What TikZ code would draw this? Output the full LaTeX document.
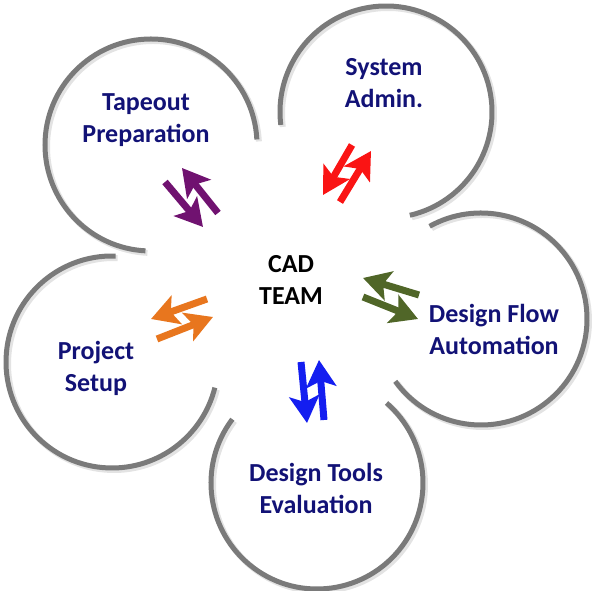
\documentclass[tikz,border=0pt]{standalone}
\usepackage{fontspec}
\setmainfont{Carlito}
\usetikzlibrary{arrows.meta}

\definecolor{navy}{RGB}{18,18,118}
\definecolor{ringgray}{RGB}{122,122,122}
\definecolor{tapecol}{RGB}{112,18,112}
\definecolor{syscol}{RGB}{250,20,20}
\definecolor{flowcol}{RGB}{80,102,40}
\definecolor{toolcol}{RGB}{20,30,240}
\definecolor{setupcol}{RGB}{232,118,30}

\tikzset{
  ring/.style={draw=ringgray,line width=5pt},
  ringshade/.style={draw=gray!22,line width=6pt},
  lbl/.style={text=navy,font=\fontsize{26}{32}\selectfont\bfseries,align=center},
  twin/.style={line width=7pt,-{Stealth[length=27pt,width=30pt,inset=6pt]}}
}

\begin{document}
\begin{tikzpicture}[x=1pt,y=1pt]
\useasboundingbox (0,0) rectangle (598,591);

% shadows of the rings
\draw[ringshade] (153,444) ++(3:106) arc[start angle=3,end angle=267,radius=106];
\draw[ringshade] (388,477) ++(283:106) arc[start angle=283,end angle=547,radius=106];
\draw[ringshade] (483,270) ++(216:106) arc[start angle=216,end angle=479,radius=106];
\draw[ringshade] (319,106) ++(143:106) arc[start angle=143,end angle=409,radius=106];
\draw[ringshade] (114,227) ++(88:106) arc[start angle=88,end angle=346,radius=106];

% rings
\draw[ring] (151,446) ++(3:106) arc[start angle=3,end angle=267,radius=106];
\draw[ring] (386,479) ++(283:106) arc[start angle=283,end angle=547,radius=106];
\draw[ring] (481,272) ++(216:106) arc[start angle=216,end angle=479,radius=106];
\draw[ring] (317,108) ++(143:106) arc[start angle=143,end angle=409,radius=106];
\draw[ring] (112,229) ++(88:106) arc[start angle=88,end angle=346,radius=106];

% labels
\node[lbl] (tapeout) at (146,471) {Tapeout\\Preparation};
\node[lbl] (sysadmin) at (384,508) {System\\Admin.};
\node[lbl] (flow) at (494,262) {Design Flow\\Automation};
\node[lbl] (tools) at (316,103) {Design Tools\\Evaluation};
\node[lbl] (setup) at (96,223) {Project\\Setup};
\node[lbl,text=black] (cad) at (291,311) {CAD\\TEAM};

% arrow ends
\coordinate (tp1) at (165,409);
\coordinate (tp2) at (203,364);
\coordinate (tp3) at (218,378);
\coordinate (tp4) at (182,423);
\coordinate (sa1) at (352,446);
\coordinate (sa2) at (323,396);
\coordinate (sa3) at (340,389);
\coordinate (sa4) at (371,440);
\coordinate (fl1) at (419,296);
\coordinate (fl2) at (363,313);
\coordinate (fl3) at (363,294);
\coordinate (fl4) at (418,272);
\coordinate (dt1) at (301,229);
\coordinate (dt2) at (307,168);
\coordinate (dt3) at (324,171);
\coordinate (dt4) at (319,231);
\coordinate (ps1) at (207,292);
\coordinate (ps2) at (151,272);
\coordinate (ps3) at (157,252);
\coordinate (ps4) at (213,274);

% double arrows
\draw[twin,tapecol] (tp1) -- (tp2);
\draw[twin,tapecol] (tp3) -- (tp4);
\draw[twin,syscol] (sa1) -- (sa2);
\draw[twin,syscol] (sa3) -- (sa4);
\draw[twin,flowcol] (fl1) -- (fl2);
\draw[twin,flowcol] (fl3) -- (fl4);
\draw[twin,toolcol] (dt1) -- (dt2);
\draw[twin,toolcol] (dt3) -- (dt4);
\draw[twin,setupcol] (ps1) -- (ps2);
\draw[twin,setupcol] (ps3) -- (ps4);
\end{tikzpicture}
\end{document}
